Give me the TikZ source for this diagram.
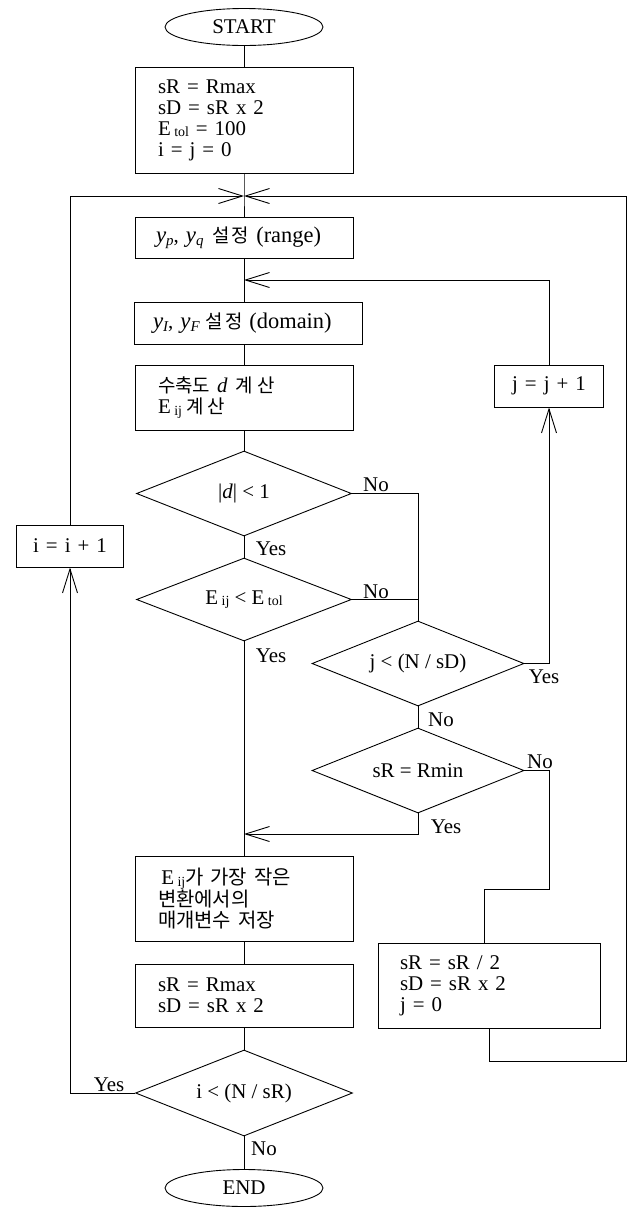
\documentclass[tikz,border=0pt]{standalone}
\usepackage{fontspec}
\setmainfont{Liberation Serif}
\newfontfamily\kr{Noto Sans CJK KR}
\usetikzlibrary{shapes.geometric,arrows.meta}
\newcommand\sbs[1]{\raisebox{-1.5bp}{\fontsize{14}{14}\selectfont #1}}
\newcommand\isb[1]{\raisebox{-3bp}{\fontsize{15}{15}\selectfont\itshape #1}}
\newcommand\iy{{\fontsize{23}{23}\selectfont\itshape y}}
\newcommand\kt[1]{{\kr\fontsize{19}{19}\selectfont #1}}
\newcommand\pt[1]{{\fontsize{22.5}{22.5}\selectfont #1}}
\begin{document}
\begin{tikzpicture}[x=1bp,y=-1bp,
  every node/.style={font=\fontsize{21}{21}\selectfont, inner sep=0pt},
  line/.style={line width=0.9bp},
  arr/.style={line, -{Straight Barb[length=24bp,width=15bp,line width=0.9bp]}},
  proc/.style={draw, line width=0.9bp, rectangle, inner xsep=23bp, inner ysep=0pt,
    text width=172bp, align=left},
  term/.style={draw, line width=0.9bp, ellipse, minimum width=158bp, minimum height=37bp},
  dec/.style={draw, line width=0.9bp, diamond, aspect=2.5, inner sep=0pt},
  lbl/.style={inner sep=0pt}
]
\useasboundingbox (0,0) rectangle (634,1209);

% main column
\node[term] (start) at (244,27) {START};
\node[proc, minimum height=106bp] (init) at (244,120)
  {\fontsize{21}{21}\selectfont sR = Rmax\\ sD = sR x 2\\ E\,\sbs{tol} = 100\\ i = j = 0};
\coordinate (merge) at (244,196);
\node[proc, minimum height=41bp, inner xsep=21bp, text width=176bp] (yp) at (244,237.5)
  {\iy\isb{p}, \iy\isb{q}\hspace{9bp}\kt{설\hspace{2bp}정} \pt{(range)}};
\coordinate (m2) at (244,280);
\node[proc, minimum height=42bp, inner xsep=19bp, text width=190bp] (dom) at (248,323)
  {\iy\isb{I}, \iy\isb{F}\hspace{6bp}\kt{설\hspace{2bp}정} \pt{(domain)}};
\node[proc, minimum height=65bp] (calc) at (244,397.5)
  {\fontsize{21}{18.5}\selectfont\kt{수축도}\hspace{7bp}\textit{d}\hspace{8bp}\kt{계\hspace{4bp}산}\\ E\,\sbs{ij}\hspace{4bp}\kt{계\hspace{4bp}산}};
\node[dec, minimum width=215bp, minimum height=85bp] (d1) at (244,493.5) {|\textit{d}| {<} 1};
\node[dec, minimum width=215bp, minimum height=83bp] (d2) at (244,599.5) {E\,\sbs{ij} {<} E\,\sbs{tol}};
\node[dec, minimum width=212bp, minimum height=85bp] (d3) at (418,663.5) {j {<} (N / sD)};
\node[dec, minimum width=212bp, minimum height=85bp] (d4) at (418,770.5) {sR = Rmin};
\node[proc, minimum height=42bp, inner xsep=0pt, text width=109bp, align=center] (jinc) at (549,386) {j = j + 1};
\node[proc, minimum height=42bp, inner xsep=0pt, text width=107bp, align=center] (iinc) at (70,546) {i = i + 1};
\coordinate (j3) at (244,834);
\node[proc, minimum height=85bp, inner xsep=23bp, text width=172bp] (save) at (244,898.5)
  {\kr\fontsize{20}{20.5}\selectfont \,{\rmfamily\fontsize{21}{21}\selectfont E\,\sbs{ij}}가 가장 작은\\ 변환에서의\\ 매개변수 저장};
\node[proc, minimum height=63bp] (reset) at (244,995.5)
  {sR = Rmax\\ sD = sR x 2};
\node[proc, minimum height=85bp, inner xsep=22bp, text width=178bp] (halve) at (489,985.5)
  {sR = sR / 2\\ sD = sR x 2\\ j = 0};
\node[dec, minimum width=217bp, minimum height=86bp] (d5) at (244,1093) {i {<} (N / sR)};
\node[term] (end) at (244,1188) {END};

% helper coordinates
\coordinate (c1) at (549,889);
\coordinate (c2) at (484,889);
\coordinate (rb) at (626,1061);
\coordinate (rt) at (626,196);
\coordinate (lb) at (70,1093);

% labels
\node[lbl] (l1) at (376,485) {No};
\node[lbl] (l2) at (271,549) {Yes};
\node[lbl] (l3) at (376,592) {No};
\node[lbl] (l4) at (271,656) {Yes};
\node[lbl] (l5) at (544,677) {Yes};
\node[lbl] (l6) at (441,720) {No};
\node[lbl] (l7) at (540,762) {No};
\node[lbl] (l8) at (446,827) {Yes};
\node[lbl] (l9) at (109,1085) {Yes};
\node[lbl] (l10) at (264,1149) {No};

% connectors
\draw[line] (start) -- (init);
\draw[line] (init.south) -- (merge) -- (yp.north);
\draw[line] (yp.south) -- (yp.south |- dom.north);
\draw[line] (yp.south |- dom.south) -- (calc.north);
\draw[line] (calc) -- (d1);
\draw[line] (d1) -- (d2);
\draw[line] (d2.south) -- (save.north);
\draw[line] (d1.east) -| (d3.north);
\draw[line] (d2.east) -- (d2.east -| d3.north);
\draw[arr] (d3.east) -| (jinc.south);
\draw[arr] (jinc.north) |- (m2);
\draw[line] (d3) -- (d4);
\draw[arr] (d4.south) |- (j3);
\draw[line] (d4.east) -| (c1) -- (c2) -- (c2 |- halve.north);
\draw[arr] (halve.south) |- (rb) -- (rt) -- (merge);
\draw[line] (save) -- (reset);
\draw[line] (reset) -- (d5);
\draw[arr] (d5.west) -- (lb) -- (iinc.south);
\draw[arr] (iinc.north) |- (merge);
\draw[line] (d5) -- (end);
\end{tikzpicture}
\end{document}
